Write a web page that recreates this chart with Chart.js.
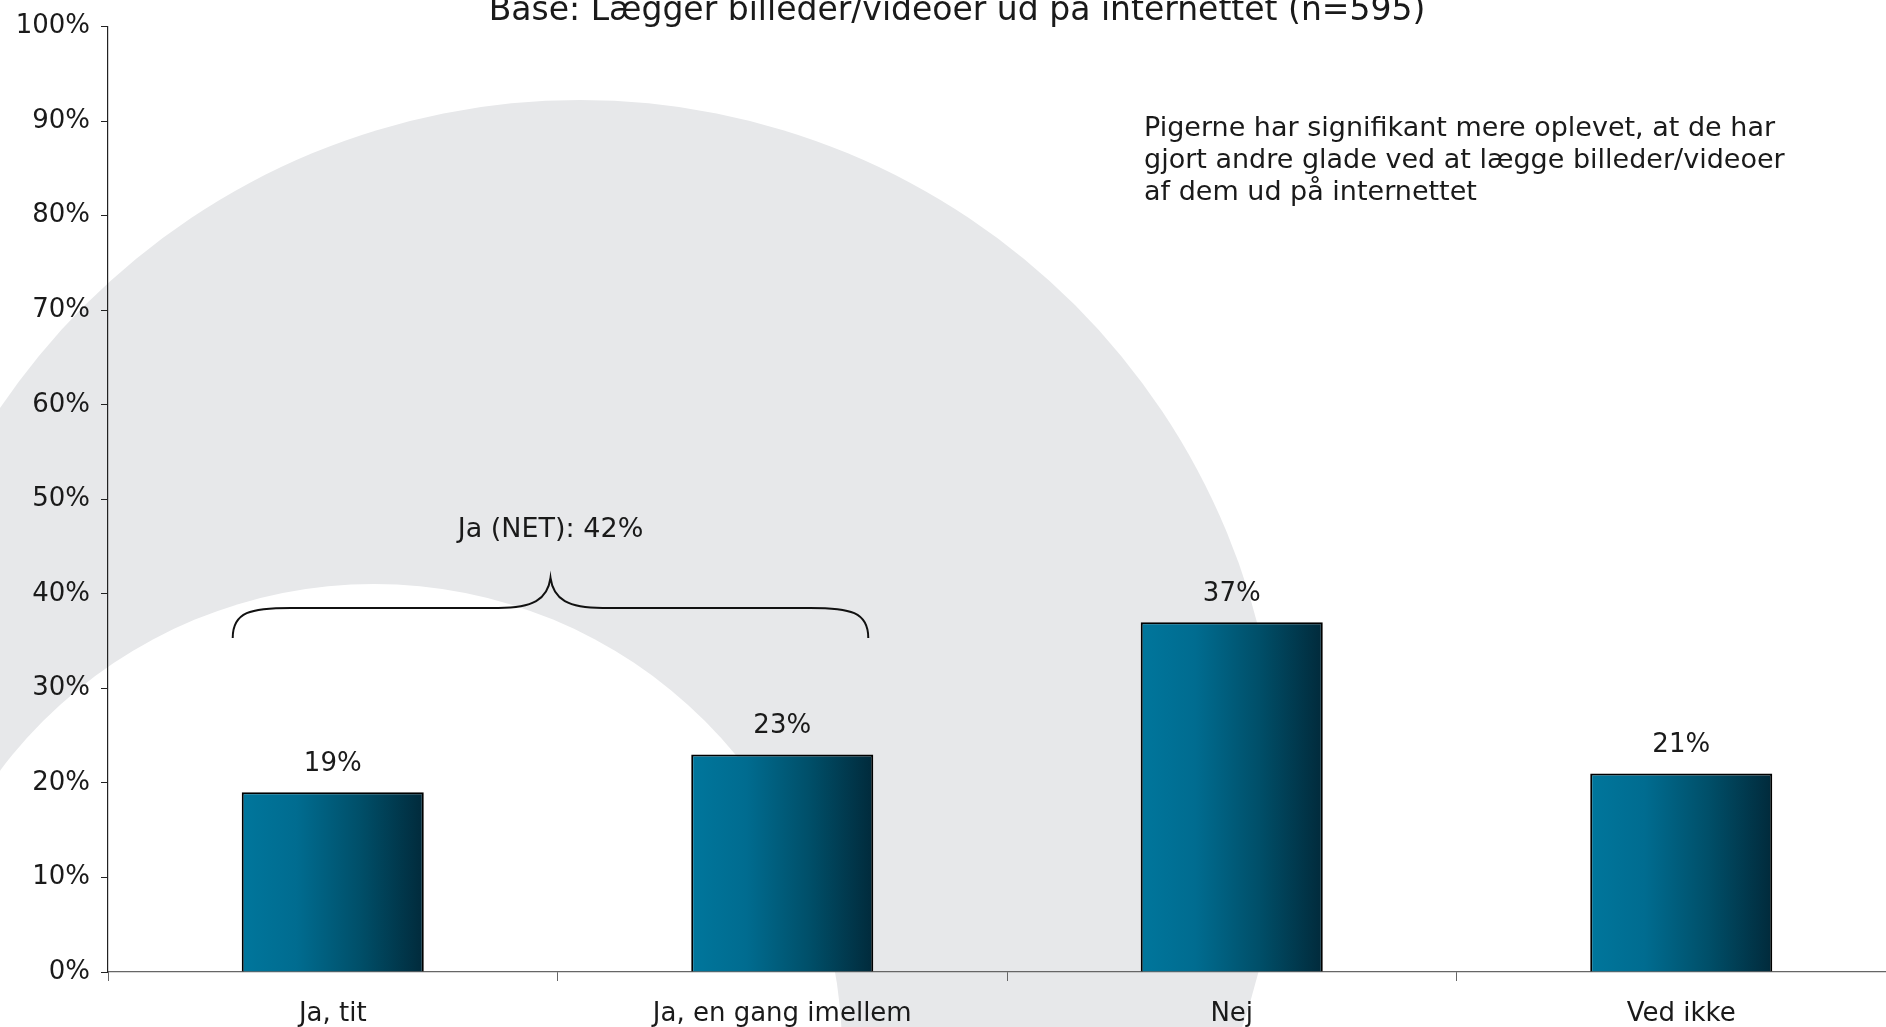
<!DOCTYPE html>
<html>
<head>
<meta charset="utf-8">
<script src="https://cdn.jsdelivr.net/npm/chart.js@4.4.1/dist/chart.umd.min.js"></script>
<style>
  html, body { margin: 0; padding: 0; overflow: hidden; background: #fff; }
  #wrap { width: 1906px; height: 1027px; }
</style>
</head>
<body>
<div id="wrap"><canvas id="bar-chart"></canvas></div>
<script>
// data
const categories = ["Ja, tit", "Ja, en gang imellem", "Nej", "Ved ikke"];
const shares = [19, 23, 37, 21];
const yTickValues = [0, 10, 20, 30, 40, 50, 60, 70, 80, 90, 100];
const netGroup = [0, 1];
const netShare = 42;
const netLabel = "Ja (NET): 42%";
const titleText = "Base: Lægger billeder/videoer ud på internettet (n=595)";
const noteLines = [
  "Pigerne har signifikant mere oplevet, at de har",
  "gjort andre glade ved at lægge billeder/videoer",
  "af dem ud på internettet"
];

const FONT = "'DejaVu Sans', Verdana, sans-serif";
const TEXT = "#1a1a1a";

// grey watermark rings behind the chart
const backdrop = {
  id: "backdrop",
  beforeDraw(chart) {
    const c = chart.ctx;
    c.save();
    c.fillStyle = "#fff";
    c.fillRect(0, 0, chart.width, chart.height);
    c.fillStyle = "#e7e8ea";
    c.beginPath();
    c.arc(580, 800, 700, 0, Math.PI * 2);
    c.fill();
    c.fillStyle = "#fff";
    c.beginPath();
    c.arc(374, 1052, 468, 0, Math.PI * 2);
    c.fill();
    c.restore();
  }
};

// horizontal gradient on every bar
const barShade = {
  id: "barShade",
  beforeDatasetsDraw(chart) {
    const c = chart.ctx;
    chart.getDatasetMeta(0).data.forEach(bar => {
      const l = bar.x - bar.width / 2, r = bar.x + bar.width / 2;
      const g = c.createLinearGradient(l, 0, r, 0);
      g.addColorStop(0, "#00769c");
      g.addColorStop(0.3, "#006c90");
      g.addColorStop(0.65, "#004f69");
      g.addColorStop(1, "#012a3b");
      bar.options.backgroundColor = g;
    });
  }
};

// values, brace, titles
const extras = {
  id: "extras",
  afterDraw(chart) {
    const c = chart.ctx;
    const y = chart.scales.y;
    const bars = chart.getDatasetMeta(0).data;
    c.save();
    c.fillStyle = TEXT;
    c.textAlign = "center";
    c.textBaseline = "middle";
    c.font = "26px " + FONT;
    bars.forEach((bar, i) => {
      c.fillText(shares[i] + "%", bar.x, bar.y - 28);
    });

    // brace over the "ja" answers
    const b0 = bars[netGroup[0]], b1 = bars[netGroup[1]];
    const L = b0.x - b0.width / 2 - 9;
    const R = b1.x + b1.width / 2 - 5;
    const M = (L + R) / 2;
    const yPeak = y.getPixelForValue(netShare) + 3;
    const yBar = yPeak + 30, yTip = yPeak + 60;
    c.strokeStyle = "#111";
    c.lineWidth = 2;
    c.beginPath();
    c.moveTo(L, yTip);
    c.bezierCurveTo(L, yBar + 4, L + 18, yBar, L + 58, yBar);
    c.lineTo(M - 52, yBar);
    c.bezierCurveTo(M - 18, yBar, M - 3, yBar - 8, M, yPeak);
    c.bezierCurveTo(M + 3, yBar - 8, M + 18, yBar, M + 52, yBar);
    c.lineTo(R - 58, yBar);
    c.bezierCurveTo(R - 18, yBar, R, yBar + 4, R, yTip);
    c.stroke();
    c.font = "27px " + FONT;
    c.fillText(netLabel, M, yPeak - 48);

    // title (cut at the top edge)
    c.textBaseline = "alphabetic";
    c.font = "33px " + FONT;
    c.fillText(titleText, 957, 20);

    // note on the right
    c.textAlign = "left";
    c.font = "27px " + FONT;
    noteLines.forEach((line, i) => c.fillText(line, 1144, 136 + i * 32));
    c.restore();
  }
};

const ctx = document.querySelector("#bar-chart").getContext("2d");

const chart = new Chart(ctx, {
  type: "bar",
  data: {
    labels: categories,
    datasets: [{
      data: shares,
      // scriptable so every bar gets its own options object
      backgroundColor: () => "#006c90",
      borderColor: "#000",
      borderWidth: 2,
      barPercentage: 0.405,
      categoryPercentage: 1
    }]
  },
  options: {
    responsive: true,
    maintainAspectRatio: false,
    animation: false,
    layout: { padding: { top: 24, left: 0, right: 0, bottom: 0 } },
    plugins: {
      legend: { display: false },
      tooltip: { enabled: false }
    },
    scales: {
      x: {
        grid: {
          drawOnChartArea: false,
          drawTicks: true,
          tickLength: 9,
          color: "#666",
          offset: true
        },
        border: { display: true, color: "#666", width: 1.2 },
        ticks: {
          color: TEXT,
          font: { family: FONT, size: 26 },
          padding: 18,
          maxRotation: 0,
          autoSkip: false
        },
        afterFit(scale) { scale.height = 55; }
      },
      y: {
        min: 0,
        max: 100,
        afterBuildTicks(scale) {
          scale.ticks = yTickValues.map(v => ({ value: v }));
        },
        grid: {
          drawOnChartArea: false,
          drawTicks: true,
          tickLength: 7,
          color: "#222"
        },
        border: { display: true, color: "#222", width: 1.2 },
        ticks: {
          color: TEXT,
          font: { family: FONT, size: 26 },
          padding: 11,
          callback: v => v + "%"
        },
        afterFit(scale) { scale.width = 108; }
      }
    }
  },
  plugins: [backdrop, barShade, extras]
});
</script>
</body>
</html>
